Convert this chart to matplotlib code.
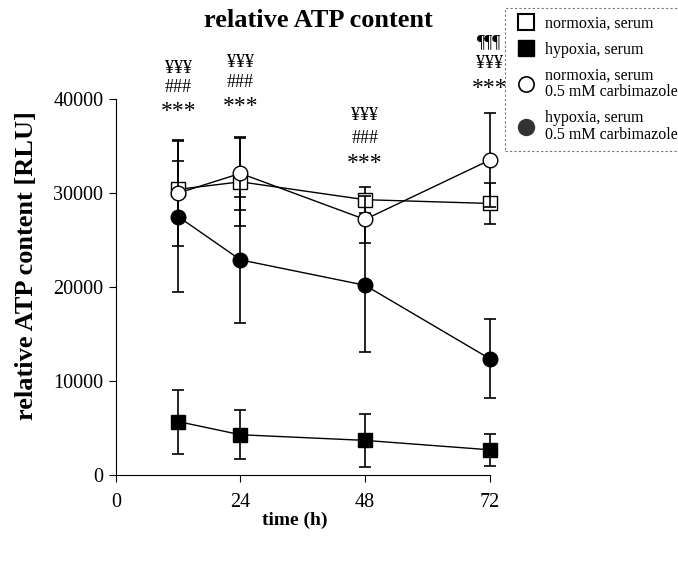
import matplotlib
matplotlib.use('Agg')
import matplotlib.pyplot as plt
from matplotlib.lines import Line2D

plt.rcParams['font.family'] = ['Liberation Serif', 'DejaVu Serif']

time_h = [12, 24, 48, 72]

norm_serum = [30400, 31200, 29300, 28900]
norm_serum_err = [3000, 4700, 1400, 2200]

hyp_serum = [5700, 4300, 3700, 2700]
hyp_serum_err = [3400, 2600, 2800, 1700]

norm_carb = [30000, 32100, 27200, 33500]
norm_carb_err = [5600, 3900, 2500, 5000]

hyp_carb = [27500, 22900, 20200, 12400]
hyp_carb_err = [8000, 6700, 7100, 4200]

labels = ['normoxia, serum', 'hypoxia, serum',
          'normoxia, serum\n0.5 mM carbimazole',
          'hypoxia, serum\n0.5 mM carbimazole']

# significance marks above each time point: (x, baseline y, text)
sig_marks = [
    (12, 42770, '¥¥¥'), (12, 40740, '###'), (12, 38090, '***'),
    (24, 43400, '¥¥¥'), (24, 41280, '###'), (24, 38620, '***'),
    (48, 37770, '¥¥¥'), (48, 35320, '###'), (48, 32550, '***'),
    (72, 45530, '¶¶¶'), (72, 43300, '¥¥¥'), (72, 40530, '***'),
]

fig = plt.figure(figsize=(6.78, 5.63), dpi=100)
ax = fig.add_axes([0.171, 0.156, 0.551, 0.668])

ebkw = dict(color='black', lw=1, elinewidth=1.2, capsize=4, capthick=1.2)

series = [
    (hyp_carb, hyp_carb_err, 'o', 10.5, 'black', 3),
    (hyp_serum, hyp_serum_err, 's', 9.5, 'black', 3),
    (norm_serum, norm_serum_err, 's', 9.5, 'white', 4),
    (norm_carb, norm_carb_err, 'o', 10.5, 'white', 5),
]
for vals, errs, mk, ms, fc, z in series:
    cont = ax.errorbar(time_h, vals, yerr=errs, marker=mk, ms=ms,
                       mfc=fc, mec='black', zorder=z, **ebkw)
    for child in cont.get_children():
        child.set_clip_on(False)

ax.set_xlim(0, 72)
ax.set_ylim(0, 40000)
ax.set_xticks([0, 24, 48, 72])
ax.set_yticks([0, 10000, 20000, 30000, 40000])
ax.spines['top'].set_visible(False)
ax.spines['right'].set_visible(False)
ax.tick_params(direction='out', length=5, labelsize=14.5, pad=4)
ax.tick_params(axis='x', pad=8)

ax.set_ylabel('relative ATP content [RLU]', fontsize=19, fontweight='bold')
ax.yaxis.set_label_coords(-0.209, 0.557)
ax.set_xlabel('time (h)', fontsize=14, fontweight='bold')
ax.xaxis.set_label_coords(0.479, -0.098)
fig.text(0.469, 1 - 27 / 563, 'relative ATP content', fontsize=19,
         fontweight='bold', ha='center', va='baseline')

for x, y, s in sig_marks:
    size = 17 if s == '***' else 13
    ax.text(x, y, s, fontsize=size, ha='center', va='baseline', clip_on=False)

handles = [
    Line2D([], [], ls='none', marker='s', ms=11, mfc='white', mec='black', mew=1.5),
    Line2D([], [], ls='none', marker='s', ms=11, mfc='black', mec='black'),
    Line2D([], [], ls='none', marker='o', ms=11, mfc='white', mec='black', mew=1.2),
    Line2D([], [], ls='none', marker='o', ms=11.5, mfc='#333333', mec='#333333'),
]
leg = fig.legend(handles, labels, loc='upper left', bbox_to_anchor=(505 / 678, 1 - 8 / 563),
                 borderaxespad=0, fontsize=11.5, frameon=True, fancybox=False,
                 edgecolor='#555555', handletextpad=0.4, labelspacing=0.6,
                 borderpad=0.5, handlelength=1.6)
for t in leg.get_texts():
    t.set_linespacing(1.1)
leg.get_frame().set_linestyle((0, (2, 2)))
leg.get_frame().set_linewidth(0.8)

fig.savefig('out.png', dpi=100)
